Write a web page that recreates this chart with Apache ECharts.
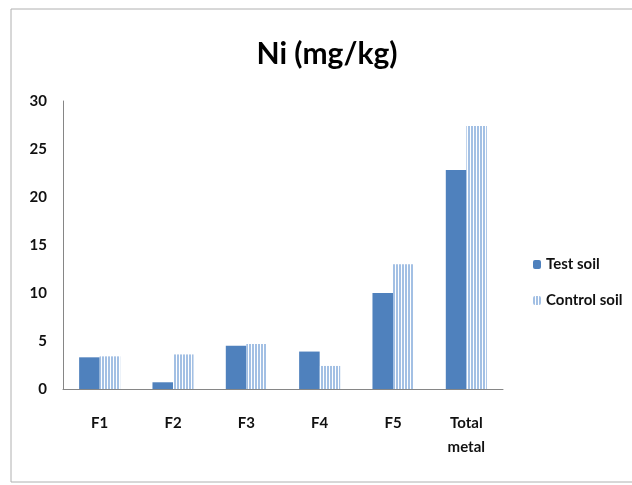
<!DOCTYPE html>
<html>
<head>
<meta charset="utf-8">
<script src="https://cdn.jsdelivr.net/npm/echarts@6/dist/echarts.min.js"></script>
<style>
  html, body { margin: 0; padding: 0; background: #fff; }
  #chart { width: 632px; height: 485px; }
</style>
</head>
<body>
<div id="chart"></div>
<script>
var categories = ['F1', 'F2', 'F3', 'F4', 'F5', 'Total\nmetal']
var testSoil = [3.3, 0.7, 4.5, 3.9, 10.0, 22.8]
var controlSoil = [3.4, 3.6, 4.7, 2.4, 13.0, 27.4]
var seriesNames = ['Test soil', 'Control soil']

// vertical stripes for the control series
function stripes() {
  var c = document.createElement('canvas')
  c.width = 3
  c.height = 4
  var ctx = c.getContext('2d')
  ctx.fillStyle = '#ffffff'
  ctx.fillRect(0, 0, 3, 4)
  ctx.fillStyle = '#a3c0e4'
  ctx.fillRect(0, 0, 2, 4)
  return c
}

var font = 'Lato, "Open Sans", sans-serif'
var chart = echarts.init(document.getElementById('chart'))

chart.setOption({
  animation: false,
  backgroundColor: '#fff',
  textStyle: { fontFamily: font },
  graphic: [{
    type: 'rect',
    shape: { x: 11, y: 9, width: 640, height: 473 },
    style: { fill: 'none', stroke: '#b0b0b0', lineWidth: 1 }
  }],
  title: {
    text: 'Ni (mg/kg)',
    left: 322,
    textAlign: 'center',
    top: 34,
    textStyle: {
      fontFamily: font,
      fontSize: 30,
      fontWeight: 'bold',
      color: '#000'
    }
  },
  legend: {
    orient: 'vertical',
    left: 528,
    top: 252,
    itemWidth: 8,
    itemHeight: 9,
    itemGap: 21,
    data: seriesNames,
    textStyle: { fontFamily: font, fontSize: 15, fontWeight: 'bold', color: '#111' }
  },
  grid: {
    left: 63,
    top: 101,
    right: 129,
    bottom: 96
  },
  xAxis: {
    type: 'category',
    data: categories,
    axisLine: { lineStyle: { color: '#868686', width: 1 } },
    axisTick: { show: false },
    axisLabel: {
      margin: 22,
      lineHeight: 24,
      fontSize: 15,
      fontWeight: 'bold',
      color: '#111',
      fontFamily: font
    }
  },
  yAxis: {
    type: 'value',
    min: 0,
    max: 30,
    interval: 5,
    axisLine: { show: true, lineStyle: { color: '#868686', width: 1 } },
    axisTick: { show: false },
    splitLine: { show: false },
    axisLabel: {
      margin: 16,
      fontSize: 15,
      fontWeight: 'bold',
      color: '#111',
      fontFamily: font
    }
  },
  series: [
    {
      name: seriesNames[0],
      type: 'bar',
      data: testSoil,
      barGap: '0%',
      barCategoryGap: '44%',
      itemStyle: { color: '#4f81bd' }
    },
    {
      name: seriesNames[1],
      type: 'bar',
      data: controlSoil,
      itemStyle: { color: { image: stripes(), repeat: 'repeat' } }
    }
  ]
})
</script>
</body>
</html>
